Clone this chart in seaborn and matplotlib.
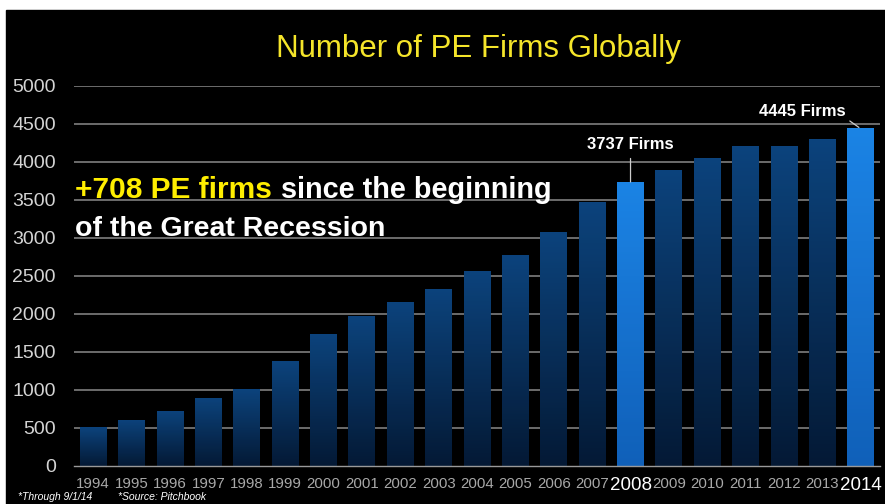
import numpy as np
import pandas as pd
import matplotlib
matplotlib.use("Agg")
import matplotlib.pyplot as plt
import seaborn as sns
from matplotlib.patches import Rectangle
from matplotlib.colors import LinearSegmentedColormap

# ---- data ----
years = [str(y) for y in range(1994, 2015)]
firms = [510, 610, 730, 900, 1010, 1380, 1740, 1970, 2160, 2330, 2570,
         2770, 3080, 3470, 3737, 3900, 4050, 4210, 4210, 4300, 4445]
highlight_years = ["2008", "2014"]
y_ticks = [0, 500, 1000, 1500, 2000, 2500, 3000, 3500, 4000, 4500, 5000]
title = "Number of PE Firms Globally"
callouts = {"2008": "3737 Firms", "2014": "4445 Firms"}

df = pd.DataFrame({"year": years, "firms": firms})

sns.set_theme(style="dark")
plt.rcParams['font.family'] = ['Liberation Sans', 'DejaVu Sans']

fig = plt.figure(figsize=(8.85, 5.04), dpi=100, facecolor="white")
W, H = 885, 504
# black slide background with thin white frame at top/left
bg = Rectangle((6 / W, 0), 1, (H - 10) / H, transform=fig.transFigure,
               color="black", zorder=-10)
fig.patches.append(bg)

ax = fig.add_axes([74 / W, (H - 466) / H, (880 - 74) / W, 380 / H])
ax.set_facecolor("black")
ax.patch.set_alpha(0)

pal = {y: ("#1a86f0" if y in highlight_years else "#0c3f78") for y in years}
sns.barplot(data=df, x="year", y="firms", hue="year", palette=pal,
            legend=False, width=0.7, ax=ax, saturation=1, zorder=3,
            edgecolor="none", linewidth=0)

# gradient fills
grad = np.linspace(0, 1, 256).reshape(-1, 1)
cm_norm = LinearSegmentedColormap.from_list("n", ["#051c3a", "#0d4987"])
cm_hi = LinearSegmentedColormap.from_list("h", ["#1268c8", "#1e8ff8"])
for patch, yr in zip(ax.patches, years):
    x0, y0 = patch.get_x(), patch.get_y()
    w, h = patch.get_width(), patch.get_height()
    cm = cm_hi if yr in highlight_years else cm_norm
    im = ax.imshow(grad, extent=(x0, x0 + w, y0, y0 + h), origin="lower",
                   cmap=cm, aspect="auto", zorder=3.5, alpha=0.93)
    im.set_clip_path(patch)
    patch.set_facecolor("black")
ax.set_xlim(-0.5, len(years) - 0.5)
ax.set_ylim(0, 5000)

# grid
ax.set_yticks(y_ticks)
for yv in y_ticks[1:]:
    ax.axhline(yv, color="#8a8a8a", lw=1.1, zorder=1)
ax.grid(False)
for s in ["top", "right", "left"]:
    ax.spines[s].set_visible(False)
ax.spines["bottom"].set_color("#9a9a9a")
ax.spines["bottom"].set_linewidth(1.0)
ax.spines["bottom"].set_zorder(5)

ax.tick_params(axis="y", length=0, labelsize=14, labelcolor="#d4d4d4", pad=13)
ax.set_xticks(range(len(years)))
ax.set_xticklabels(years)
ax.tick_params(axis="x", length=0, pad=8)
for lab in ax.get_xticklabels():
    if lab.get_text() in highlight_years:
        lab.set_fontsize(13.5)
        lab.set_color("white")
    else:
        lab.set_fontsize(10.8)
        lab.set_color("#a8a8a8")
ax.set_xticks(np.arange(-0.5, len(years), 1), minor=True)
ax.tick_params(axis="x", which="minor", length=4, direction="inout",
               color="#9a9a9a", width=1)
ax.set_xlabel("")
ax.set_ylabel("")

# title
fig.text(478 / W, 1 - 49 / H, title, color="#f5e52a", fontsize=22.5,
         ha="center", va="center")

# message text
t1 = fig.text(75 / W, 1 - 198 / H, "+708 PE firms", color="#ffee00",
              fontsize=21.5, fontweight="bold", ha="left", va="baseline")
fig.canvas.draw()
bb = t1.get_window_extent()
fig.text((bb.x1 + 9) / W, 1 - 198 / H, "since the beginning", color="white",
         fontsize=20.8, fontweight="bold", ha="left", va="baseline")
fig.text(75 / W, 1 - 236 / H, "of the Great Recession", color="white",
         fontsize=20.5, fontweight="bold", ha="left", va="baseline")

# callouts
i08 = years.index("2008")
ax.annotate(callouts["2008"], xy=(i08, firms[i08]), xytext=(i08, 4225),
            color="white", fontsize=12, fontweight="bold", ha="center",
            va="center", zorder=5,
            arrowprops=dict(arrowstyle="-", color="#cccccc", lw=0.9,
                            shrinkA=2, shrinkB=0, relpos=(0.5, 0)))
i14 = years.index("2014")
ax.annotate(callouts["2014"], xy=(i14 - 0.05, firms[i14] + 10),
            xytext=(18.47, 4660), color="white", fontsize=12,
            fontweight="bold", ha="center", va="center", zorder=5,
            arrowprops=dict(arrowstyle="-", color="#cccccc", lw=0.9,
                            shrinkA=1, shrinkB=0, relpos=(1, 0.1)))

# footnotes
fig.text(18 / W, 1 - 497 / H, "*Through 9/1/14", color="white", fontsize=7.5,
         style="italic", ha="left", va="center")
fig.text(118 / W, 1 - 497 / H, "*Source: Pitchbook", color="white",
         fontsize=7.5, style="italic", ha="left", va="center")

fig.savefig("out.png", dpi=100, facecolor="white")
